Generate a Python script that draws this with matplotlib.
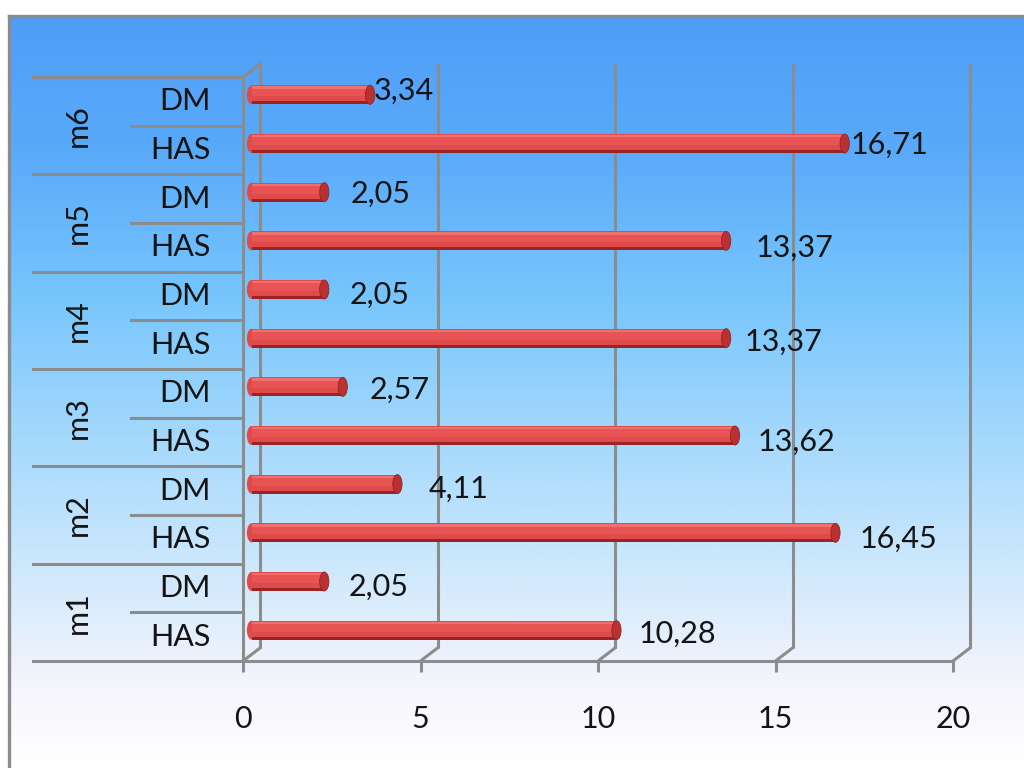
import numpy as np
import matplotlib
matplotlib.use("Agg")
import matplotlib.pyplot as plt
import matplotlib.transforms as mtransforms
from matplotlib.patches import Ellipse
from matplotlib.lines import Line2D
from matplotlib.colors import LinearSegmentedColormap

# ---------------- data ----------------
groups = ["m1", "m2", "m3", "m4", "m5", "m6"]
series = ["HAS", "DM"]
has_values = [10.28, 16.45, 13.62, 13.37, 13.37, 16.71]
dm_values = [2.05, 4.11, 2.57, 2.05, 2.05, 3.34]
x_ticks = [0, 5, 10, 15, 20]
x_tick_labels = ["0", "5", "10", "15", "20"]

# ---------------- styling ----------------
plt.rcParams['font.family'] = ['Lato', 'DejaVu Sans']
FS = 22
GREY = "#8c8c8c"
TXT = "#141414"
DPI = 100
W, H = 1024, 768

fig = plt.figure(figsize=(W / DPI, H / DPI), dpi=DPI)
fig.patch.set_facecolor("white")

# background gradient panel
bg = fig.add_axes([0, 0, 1, 1], zorder=-5)
bg.set_xlim(0, W)
bg.set_ylim(H, 0)
bg.axis("off")
stops = [(0.0, "#4e9ef8"), (0.18, "#5aaafa"), (0.377, "#78c6fd"),
         (0.577, "#a8dafc"), (0.777, "#d8ecfc"), (0.883, "#f4f4fc"), (1.0, "#ffffff")]
cmap = LinearSegmentedColormap.from_list("bgg", stops)
grad = np.linspace(0, 1, 400).reshape(-1, 1)
bg.imshow(grad, cmap=cmap, aspect="auto", extent=(9, W + 5, H, 16), origin="upper")
bg.plot([9, 9], [H + 5, 16], color=GREY, lw=2.4, solid_capstyle="projecting")
bg.plot([9, W + 5], [16, 16], color=GREY, lw=2.4, solid_capstyle="projecting")

# main axes (front plane)
left_px, right_px, top_px, bot_px = 243, 953, 77, 661
ax = fig.add_axes([left_px / W, 1 - bot_px / H, (right_px - left_px) / W, (bot_px - top_px) / H])
ax.patch.set_alpha(0)
for s in ax.spines.values():
    s.set_visible(False)

n = len(groups) * len(series)
labels_rows = []
vals = []
for g, h, d in zip(groups, has_values, dm_values):
    labels_rows += [(g, "HAS"), (g, "DM")]
    vals += [h, d]
ypos = np.arange(n)

ax.set_xlim(0, 20)
ax.set_ylim(-0.5, n - 0.5)

back = mtransforms.ScaledTranslation(17 / DPI, 13 / DPI, fig.dpi_scale_trans)
mid = mtransforms.ScaledTranslation(8.5 / DPI, 6.5 / DPI, fig.dpi_scale_trans)

# back wall gridlines
ax.vlines(x_ticks, -0.5, n - 0.5, transform=ax.transData + back, color=GREY, lw=2.2,
          clip_on=False, zorder=1)

# front frame lines
ax.plot([0, 0], [-0.5, n - 0.5], color=GREY, lw=2.2, clip_on=False, zorder=2)
bl = mtransforms.blended_transform_factory(ax.transAxes, ax.transData)
tab_left = (33 - left_px) / (right_px - left_px)
tab_inner = (131 - left_px) / (right_px - left_px)
ax.plot([tab_left, 1], [-0.5, -0.5], transform=bl, color=GREY, lw=2.2, clip_on=False, zorder=2)
for k in range(1, len(groups) + 1):
    yb = 2 * k - 0.5
    ax.plot([tab_left, 0], [yb, yb], transform=bl, color=GREY, lw=2.2, clip_on=False, zorder=2)
for k in range(len(groups)):
    yb = 2 * k + 0.5
    ax.plot([tab_inner, 0], [yb, yb], transform=bl, color=GREY, lw=2.2, clip_on=False, zorder=2)

# diagonals between front and back planes
fig.canvas.draw()
for xv in x_ticks:
    p0 = ax.transData.transform((xv, -0.5))
    fig.add_artist(Line2D([p0[0], p0[0] + 17], [p0[1], p0[1] + 13], transform=None,
                          color=GREY, lw=2.2, zorder=3))
p0 = ax.transData.transform((0, n - 0.5))
fig.add_artist(Line2D([p0[0], p0[0] + 17], [p0[1], p0[1] + 13], transform=None,
                      color=GREY, lw=2.2, zorder=3))

# bars (cylinder-like)
bh = 0.39
tr = ax.transData + mid
ax.barh(ypos, vals, height=bh, color="#9a2424", transform=tr, zorder=4, clip_on=False)
ax.barh(ypos + 0.03, vals, height=bh - 0.06, color="#df4a4a", transform=tr, zorder=5, clip_on=False)
ax.barh(ypos + 0.06, vals, height=0.18, color="#e85454", transform=tr, zorder=6, clip_on=False)
ax.barh(ypos + 0.15, vals, height=0.05, color="#f07070", transform=tr, zorder=6, clip_on=False)
for y, v in zip(ypos, vals):
    ax.add_patch(Ellipse((v, y), 0.26, bh, facecolor="#b83232", edgecolor="#962222", lw=0.6,
                         transform=tr, zorder=7, clip_on=False))
    ax.add_patch(Ellipse((0, y), 0.26, bh, facecolor="#df4a4a", edgecolor="none",
                         transform=tr, zorder=3.5, clip_on=False))

# value labels (pixel nudges relative to bar end)
label_nudges = [(14, -4), (16, -5), (16, -6), (23, -5), (14, -6), (18, -3),
                (10, -4), (17, -5), (21, -7), (18, -2), (-3, -1), (-5, 4)]
for y, v, (dx, dy) in zip(ypos, vals, label_nudges):
    ax.annotate(f"{v:.2f}".replace(".", ","), xy=(v, y), xycoords=tr,
                xytext=((8.5 + dx) * 72 / DPI, dy * 72 / DPI), textcoords="offset points",
                ha="left", va="center", fontsize=FS, color=TXT, zorder=8, annotation_clip=False)

# category labels
ax.set_yticks([])
lab_x = (211 - left_px) / (right_px - left_px)
for y, (g, s) in zip(ypos, labels_rows):
    ax.text(lab_x, y, s, transform=bl, ha="right", va="center", fontsize=FS, color=TXT)
grp_x = (78 - left_px) / (right_px - left_px)
for k, g in enumerate(groups):
    ax.text(grp_x, 2 * k + 0.5, g, transform=bl, ha="center", va="center", rotation=90,
            fontsize=FS, color=TXT)

# x ticks
ax.set_xticks(x_ticks)
ax.set_xticklabels(x_tick_labels, fontsize=FS, color=TXT)
ax.tick_params(axis="x", direction="out", length=11 * 72 / DPI, width=2.2, color=GREY,
               pad=24)
ax.tick_params(axis="y", length=0)

fig.savefig("out.png", dpi=DPI)
